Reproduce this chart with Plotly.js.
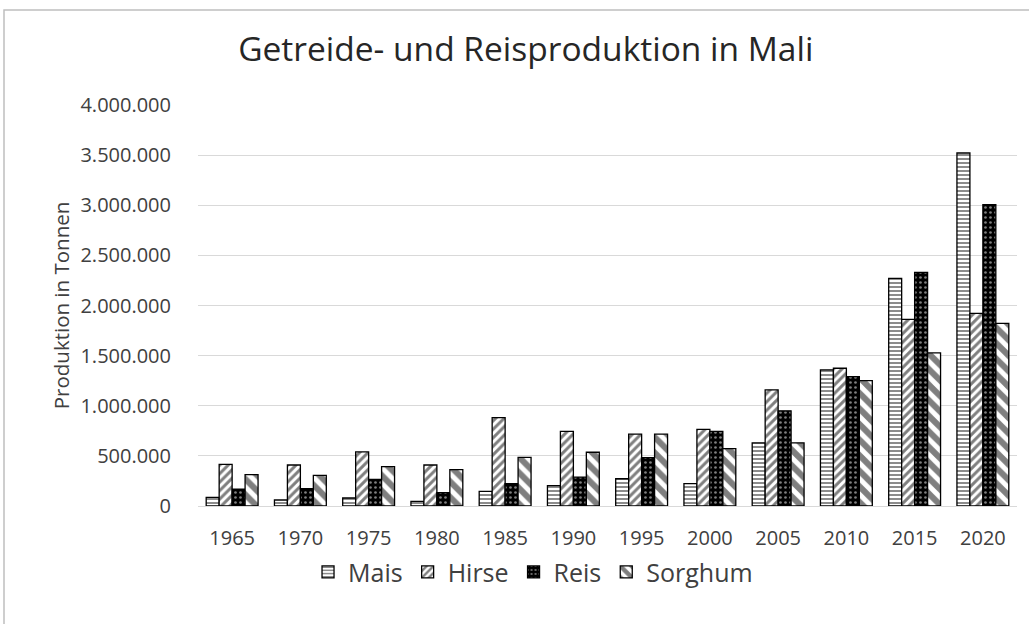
<!DOCTYPE html>
<html>
<head>
<meta charset="utf-8">
<script src="https://cdn.plot.ly/plotly-3.0.1.min.js"></script>
<style>html,body{margin:0;padding:0;background:#fff;}#chart{width:1029px;height:624px;}</style>
</head>
<body>
<div id="chart"></div>
<script>
const years = ["1965","1970","1975","1980","1985","1990","1995","2000","2005","2010","2015","2020"];
const mais    = [87000, 60000, 80000, 47000, 145000, 203000, 272000, 223000, 630000, 1358000, 2271000, 3521000];
const hirse   = [416000, 409000, 539000, 409000, 881000, 745000, 716000, 765000, 1159000, 1374000, 1862000, 1922000];
const reis    = [167000, 173000, 266000, 133000, 223000, 289000, 482000, 745000, 949000, 1291000, 2331000, 3006000];
const sorghum = [312000, 306000, 392000, 362000, 486000, 536000, 716000, 572000, 630000, 1251000, 1527000, 1822000];
const yTicks = [0, 500000, 1000000, 1500000, 2000000, 2500000, 3000000, 3500000, 4000000];

const FONT = "Open Sans, Noto Sans, sans-serif";
function bar(name, y, pattern) {
  return {
    type: "bar", name: name, x: years, y: y,
    marker: { color: "#ffffff", line: { color: "#000000", width: 1.3 }, pattern: pattern },
    hoverinfo: "x+y+name"
  };
}
const data = [
  bar("Mais", mais, { shape: "-", fgcolor: "#000", bgcolor: "#fff", size: 4, solidity: 0.45, fillmode: "overlay" }),
  bar("Hirse", hirse, { shape: "/", fgcolor: "#000", bgcolor: "#fff", size: 6, solidity: 0.5, fillmode: "overlay" }),
  bar("Reis", reis, { shape: ".", fgcolor: "#fff", bgcolor: "#000", size: 5, solidity: 0.22, fillmode: "overlay" }),
  bar("Sorghum", sorghum, { shape: "\\", fgcolor: "#000", bgcolor: "#fff", size: 11, solidity: 0.55, fillmode: "overlay" })
];
const layout = {
  width: 1029, height: 624,
  margin: { l: 198, r: 12, t: 105, b: 118 },
  paper_bgcolor: "#fff", plot_bgcolor: "#fff",
  separators: ",.",
  font: { family: FONT, color: "#404040" },
  title: { text: "Getreide- und Reisproduktion in Mali", font: { family: FONT, size: 33.5, color: "#262626" }, x: 0.511, xanchor: "center", y: 0.921, yanchor: "middle" },
  barmode: "group", bargap: 0.24, bargroupgap: 0,
  xaxis: {
    type: "category", tickfont: { size: 20, color: "#404040" }, showgrid: false,
    showline: false, ticks: "", ticklen: 0, ticklabelstandoff: 18
  },
  yaxis: {
    range: [0, 4000000], tickvals: yTicks, tickformat: ",.0f",
    tickfont: { size: 20, color: "#404040" },
    gridcolor: "#d9d9d9", gridwidth: 1, zeroline: true, zerolinecolor: "#d9d9d9", zerolinewidth: 1,
    showline: false, ticks: "", ticklabelstandoff: 26,
    title: { text: "Produktion in Tonnen", font: { size: 20.5, color: "#404040" }, standoff: 5 }
  },
  legend: {
    orientation: "h", x: 0.518, xanchor: "center", xref: "container", y: 0.083, yref: "container", yanchor: "middle",
    font: { size: 25, color: "#404040" }, itemwidth: 30, tracegroupgap: 0, traceorder: "normal"
  },
  shapes: [{
    type: "rect", xref: "paper", yref: "paper",
    x0: (4 - 198) / 819, x1: (1040 - 198) / 819, y0: (506 - 640) / 401, y1: (506 - 10) / 401,
    line: { color: "#bfbfbf", width: 1.5 }, fillcolor: "rgba(0,0,0,0)", layer: "below"
  }]
};
Plotly.newPlot("chart", data, layout, { staticPlot: true, displayModeBar: false });
</script>
</body>
</html>
